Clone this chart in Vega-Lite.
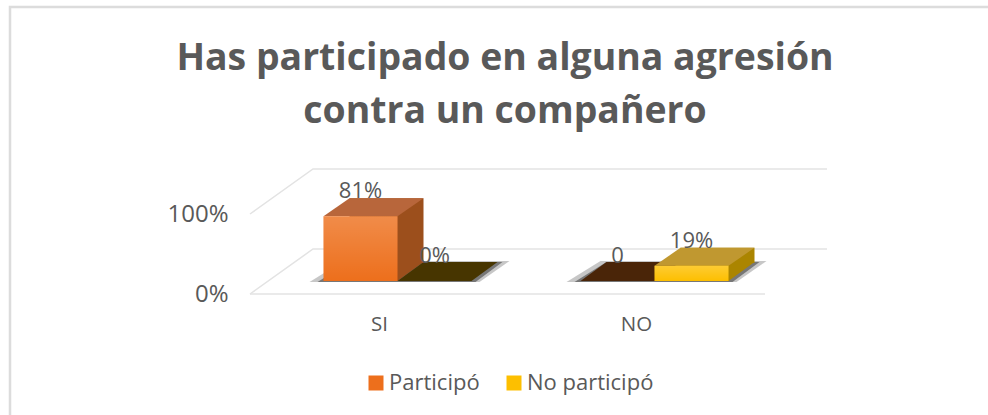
{
"$schema":"https://vega.github.io/schema/vega-lite/v6.json",
"width":514,"height":80,
"autosize":{"type":"none"},
"padding":{"left":269,"top":214,"right":205,"bottom":121},
"background":"white",
"title":{"text":["Has participado en alguna agresión","contra un compañero"],"font":"Open Sans","fontWeight":700,"fontSize":37.4,"lineHeight":53,"color":"#595959","anchor":"middle","dx":-21,"offset":0,"dy":128},
"config":{"view":{"stroke":null},"font":"Open Sans"},
"datasets":{
"rows":[
{"cat":"SI","series":"Participó","value":81,"label":"81%"},
{"cat":"SI","series":"No participó","value":0,"label":"0%"},
{"cat":"NO","series":"Participó","value":0,"label":"0"},
{"cat":"NO","series":"No participó","value":19,"label":"19%"}
],
"ticks":[{"pct":0},{"pct":100}]
},
"data":{"name":"rows"},
"encoding":{
"x":{"field":"cat","type":"nominal","sort":["SI","NO"],"scale":{"paddingInner":0.424,"paddingOuter":0.212},"axis":{"title":null,"domain":false,"ticks":false,"grid":false,"labelAngle":0,"labelOffset":-18,"labelPadding":20,"labelFontSize":20.5,"labelColor":"#595959","labelFont":"Open Sans"}},
"y":{"field":"value","type":"quantitative","scale":{"domain":[0,100]},"axis":{"title":null,"domain":false,"ticks":false,"grid":false,"values":[0,100],"labelExpr":"datum.value+'%'","labelPadding":41,"labelFontSize":24,"labelColor":"#595959","labelFont":"Open Sans"}}
},
"layer":[
{"data":{"values":[{"frame":"borde"}]},"mark":{"type":"point","shape":"M -516 161 L -516 -247 L 462 -247","size":4,"filled":false,"stroke":"#dcdcdc","strokeWidth":2.5,"opacity":1},"encoding":{"x":{"value":257},"y":{"value":40}}},
{"data":{"name":"ticks"},"mark":{"type":"point","shape":"M -276 0 L -213 -45 L 301 -45","size":4,"filled":false,"stroke":"#e3e3e3","strokeWidth":1.5,"opacity":1},"encoding":{"x":{"value":257},"y":{"field":"pct","type":"quantitative"}}},
{"data":{"name":"ticks"},"transform":[{"filter":"datum.pct==0"}],"mark":{"type":"point","shape":"M -276 0 L 239 0","size":4,"filled":false,"stroke":"#e3e3e3","strokeWidth":1.5,"opacity":1},"encoding":{"x":{"value":257},"y":{"field":"pct","type":"quantitative"}}},
{"transform":[{"filter":"datum.series=='Participó'"}],"mark":{"type":"point","shape":"M -88 -12 L 82 -12 L 112 -33 L -54 -33 Z","size":4,"filled":true,"fill":"rgba(0,0,0,0.22)","opacity":1,"strokeWidth":0},"encoding":{"y":{"datum":0}}},
{"transform":[{"filter":"datum.series=='Participó'"}],"mark":{"type":"point","shape":"M -80 -12 L 78 -12 L 105 -32 L -48 -32 Z","size":4,"filled":true,"fill":"rgba(0,0,0,0.4)","opacity":1,"strokeWidth":0},"encoding":{"y":{"datum":0}}},
{"mark":{"type":"point","shape":"M -37 -13 L 37 -13 L 63 -32 L -11 -32 Z","size":4,"filled":true,"opacity":1,"strokeWidth":0},"encoding":{"xOffset":{"field":"series","sort":["Participó","No participó"]},"y":{"datum":0},"fill":{"condition":[{"test":"datum.value==0 && datum.series=='Participó'","value":"#4a2508"},{"test":"datum.value==0","value":"#473500"},{"test":"datum.series=='Participó'","value":"#9c4f1c"}],"value":"#ab8500"}}},
{"transform":[{"filter":"datum.value>0"}],"mark":{"type":"bar","width":74,"xOffset":{"expr":"datum.series=='Participó' ? -11 : 63"},"yOffset":-31,"strokeWidth":0},"encoding":{"fill":{"condition":{"test":"datum.series=='Participó'","value":"#9c4f1c"},"value":"#ab8500"}}},
{"transform":[{"filter":"datum.value>0"}],"mark":{"type":"point","shape":"M -37 -13 L 37 -13 L 63 -31 L -11 -31 Z","size":4,"filled":true,"opacity":1,"strokeWidth":0},"encoding":{"xOffset":{"field":"series","sort":["Participó","No participó"]},"fill":{"condition":{"test":"datum.series=='Participó'","value":"#b8663b"},"value":"#c09830"}}},
{"transform":[{"filter":"datum.value>0"}],"mark":{"type":"bar","yOffset":-13,"strokeWidth":0},"encoding":{"xOffset":{"field":"series","sort":["Participó","No participó"]},"color":{"field":"series","type":"nominal","scale":{"domain":["Participó","No participó"],"range":["#ed6f1c","#fdbf00"]},"legend":{"title":null,"orient":"none","direction":"horizontal","legendX":96,"legendY":158,"padding":0,"symbolType":"square","symbolSize":225,"symbolStrokeWidth":0,"symbolOpacity":1,"labelFontSize":22,"labelColor":"#595959","labelFont":"Open Sans","labelOffset":2,"columnPadding":23}}}},
{"transform":[{"filter":"datum.value>0"}],"mark":{"type":"bar","yOffset":-13,"strokeWidth":0,"fill":{"gradient":"linear","x1":0,"y1":0,"x2":0,"y2":1,"stops":[{"offset":0,"color":"rgba(255,255,255,0.2)"},{"offset":1,"color":"rgba(255,255,255,0)"}]}},"encoding":{"xOffset":{"field":"series","sort":["Participó","No participó"]}}},
{"mark":{"type":"text","font":"Open Sans","fontSize":22,"color":"#595959","dy":-38,"baseline":"middle","align":"center"},"encoding":{"xOffset":{"field":"series","sort":["Participó","No participó"]},"text":{"field":"label"}}}
]
}
